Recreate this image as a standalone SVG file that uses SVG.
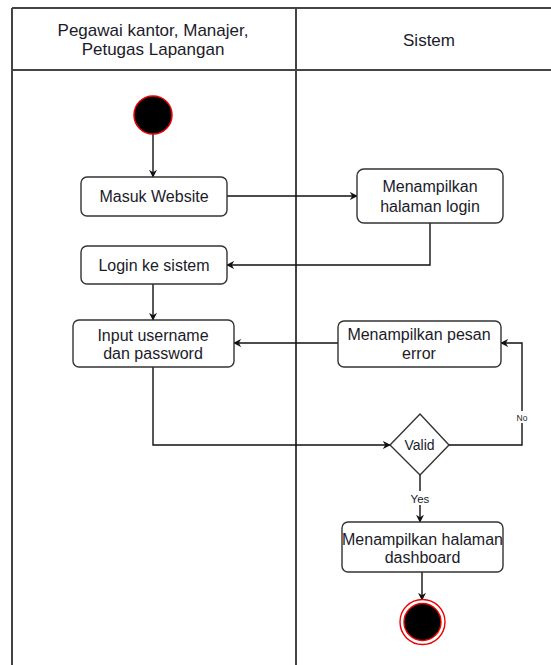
<svg xmlns="http://www.w3.org/2000/svg" width="551" height="665" viewBox="0 0 551 665">
  <style>
    .lane { stroke: #444; stroke-width: 2; fill: none; }
    .act rect { fill: #fff; stroke: #333; stroke-width: 1.4; }
    .lbl { font-family: "Liberation Sans", Arial, sans-serif; font-size: 16px; fill: #1b1b2a; text-anchor: middle; }
    .hdr { font-family: "Liberation Sans", Arial, sans-serif; font-size: 17px; fill: #1b1b2a; text-anchor: middle; }
    .small { font-family: "Liberation Sans", Arial, sans-serif; fill: #1b1b2a; text-anchor: middle; }
    .edge { stroke: #111; stroke-width: 1.4; fill: none; marker-end: url(#arrow); }
  </style>
  <defs>
    <marker id="arrow" viewBox="0 0 10 10" refX="9" refY="5" markerWidth="8" markerHeight="8" markerUnits="userSpaceOnUse" orient="auto">
      <path d="M0,0 L10,5 L0,10 L3,5 Z" fill="#111"/>
    </marker>
  </defs>
  <rect width="551" height="665" fill="#fff"/>

  <!-- swimlanes -->
  <g id="lanes">
    <line class="lane" x1="12" y1="8" x2="551" y2="8"/>
    <line class="lane" x1="12" y1="70" x2="551" y2="70"/>
    <line class="lane" x1="12" y1="8" x2="12" y2="665" stroke="#777"/>
    <line class="lane" x1="296" y1="8" x2="296" y2="665" stroke="#222"/>
    <text class="hdr" x="153" y="35.5">Pegawai kantor, Manajer,</text>
    <text class="hdr" x="153" y="54.5">Petugas Lapangan</text>
    <text class="hdr" x="429" y="46">Sistem</text>
  </g>

  <!-- connectors -->
  <g id="connectors">
    <path class="edge" d="M153,134 L153,177"/>
    <path class="edge" d="M227,196 L357,196"/>
    <path class="edge" d="M430,223 L430,265 L227,265"/>
    <path class="edge" d="M153,284 L153,320"/>
    <path class="edge" d="M338,343 L234,343"/>
    <path class="edge" d="M153,367 L153,445 L390,445"/>
    <path class="edge" d="M449,445 L522,445 L522,343 L501,343"/>
    <path class="edge" d="M420,474 L420,522"/>
    <path class="edge" d="M422,572 L422,600"/>
    <rect x="514" y="411" width="16" height="12" fill="#fff"/>
    <text class="small" x="522" y="421" font-size="8.5px">No</text>
    <rect x="406" y="491" width="28" height="14" fill="#fff"/>
    <text class="small" x="420" y="503" font-size="11.5px">Yes</text>
  </g>

  <g id="start">
    <circle cx="153" cy="115" r="19" fill="#000" stroke="#e00" stroke-width="1.5"/>
  </g>

  <g id="masuk-website" class="act">
    <rect x="81" y="177" width="146" height="39" rx="6"/>
    <text class="lbl" x="154" y="201.5">Masuk Website</text>
  </g>

  <g id="halaman-login" class="act">
    <rect x="357" y="169" width="146" height="54" rx="7"/>
    <text class="lbl" x="430" y="192">Menampilkan</text>
    <text class="lbl" x="430" y="211.5">halaman login</text>
  </g>

  <g id="login-sistem" class="act">
    <rect x="81" y="246" width="146" height="38" rx="6"/>
    <text class="lbl" x="154" y="270.5">Login ke sistem</text>
  </g>

  <g id="input-username" class="act">
    <rect x="73" y="320" width="161" height="47" rx="6"/>
    <text class="lbl" x="153" y="340.5">Input username</text>
    <text class="lbl" x="153" y="359">dan password</text>
  </g>

  <g id="pesan-error" class="act">
    <rect x="338" y="321" width="163" height="46" rx="6"/>
    <text class="lbl" x="419" y="340">Menampilkan pesan</text>
    <text class="lbl" x="419" y="359">error</text>
  </g>

  <g id="valid">
    <polygon points="420,414 449,445 420,475 390,445" fill="#fff" stroke="#333" stroke-width="1.4"/>
    <text class="small" x="419.5" y="450" font-size="14px">Valid</text>
  </g>

  <g id="dashboard" class="act">
    <rect x="342" y="522" width="161" height="50" rx="6"/>
    <text class="lbl" x="422.5" y="545">Menampilkan halaman</text>
    <text class="lbl" x="422.5" y="562.5">dashboard</text>
  </g>

  <g id="end">
    <circle cx="422.5" cy="622" r="22.5" fill="#fff" stroke="#e00" stroke-width="1.4"/>
    <circle cx="422.5" cy="622" r="18.5" fill="#000" stroke="#e00" stroke-width="1.4"/>
  </g>
</svg>
